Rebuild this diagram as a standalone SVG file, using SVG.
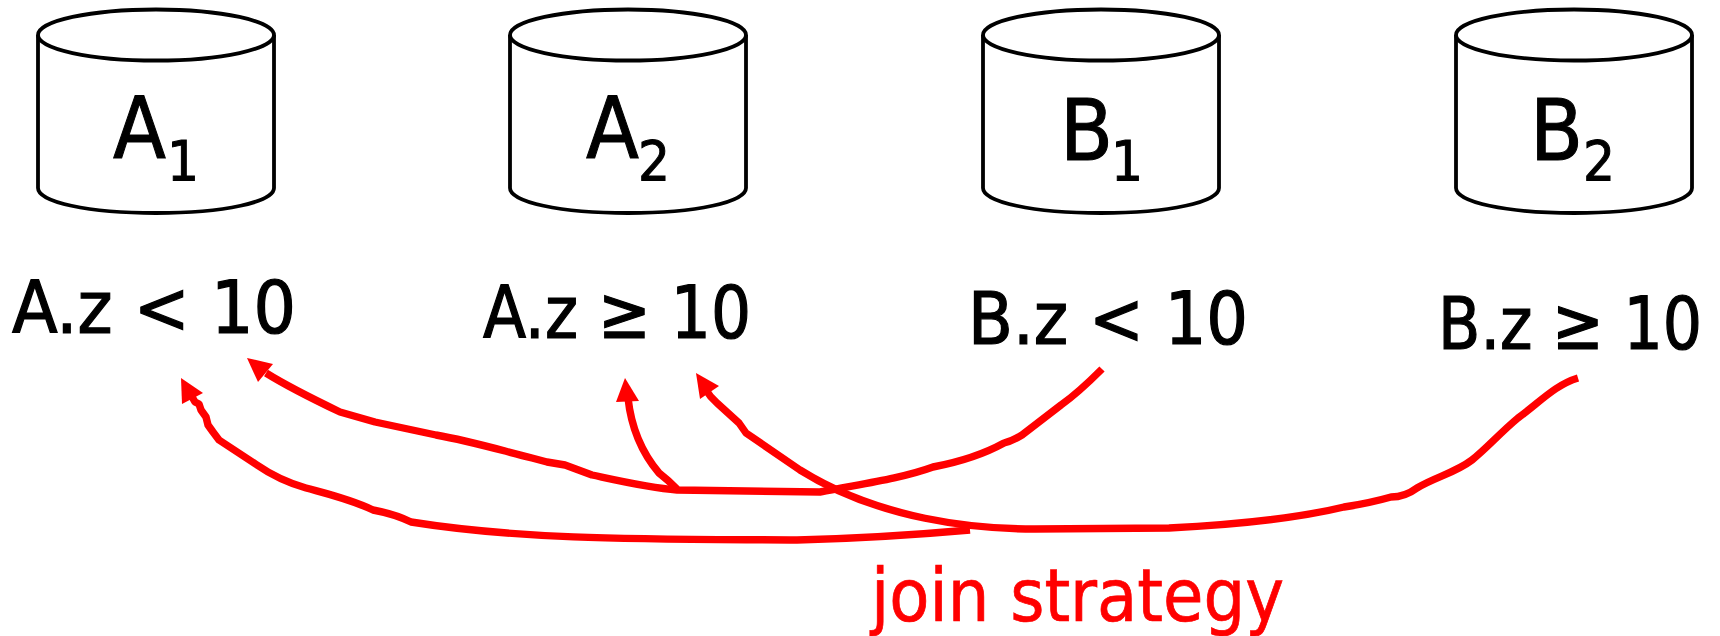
<svg xmlns="http://www.w3.org/2000/svg" width="1720" height="636" viewBox="0 0 1720 636">
<style>
text{font-family:"DejaVu Sans Condensed","DejaVu Sans",sans-serif;font-stretch:condensed;fill:#000;stroke:#000;stroke-width:1}
.big{font-size:86px}.sub{font-size:56px}.lab{font-size:73px;stroke-width:1.2}
.red{fill:#f00;stroke:#f00;font-size:73px;stroke-width:.7}
.cyl{fill:#fff;stroke:#000;stroke-width:3.8}
.wire{fill:none;stroke:#f00;stroke-width:7.4;stroke-linejoin:round}
.head{fill:#f00}
</style>
<defs>
<g id="cyl">
<path class="cyl" d="M38 35V188C38 202 88 213 156 213S274 202 274 188V35"/>
<ellipse class="cyl" cx="156" cy="35" rx="118" ry="25.5"/>
</g>
</defs>
<g id="node-a1"><use href="#cyl"/><text class="big" x="113" y="158">A</text><text class="sub" x="167" y="180">1</text></g>
<g id="node-a2"><use href="#cyl" x="472"/><text class="big" x="586" y="158">A</text><text class="sub" x="638" y="180">2</text></g>
<g id="node-b1"><use href="#cyl" x="945"/><text class="big" x="1060" y="160">B</text><text class="sub" x="1111" y="180">1</text></g>
<g id="node-b2"><use href="#cyl" x="1418"/><text class="big" x="1530" y="160">B</text><text class="sub" x="1583" y="180">2</text></g>
<g id="labels">
<text class="lab" x="12" y="333" textLength="284" lengthAdjust="spacingAndGlyphs">A.z &lt; 10</text>
<text class="lab" x="483" y="338" textLength="268" lengthAdjust="spacingAndGlyphs">A.z ≥ 10</text>
<text class="lab" x="968" y="344" textLength="280" lengthAdjust="spacingAndGlyphs">B.z &lt; 10</text>
<text class="lab" x="1438" y="349" textLength="264" lengthAdjust="spacingAndGlyphs">B.z ≥ 10</text>
</g>
<g id="connectors">
<path class="wire" d="M1102 369C1090 381 1078 393 1061 405L1022 435Q1012 441 1004 443Q975 459 933 467C900 479 860 484 820 492L677 490C650 488 620 481 592 475L565 465L547 462L532 458C500 450 470 441 436 435L375 422L340 412C315 400 290 388 266 373"/>
<polygon class="head" points="247,358 273,364 258,382"/>
<path class="wire" d="M677 489Q668 480 659 473C648 460 632 435 628 398"/>
<polygon class="head" points="625,378 616,402 639,401"/>
<path class="wire" d="M1578 378C1555 385 1540 402 1518 418C1500 433 1487 448 1472 460C1455 473 1435 477 1417 488Q1405 497 1391 497Q1370 503 1344 507C1290 520 1230 525 1169 528L1035 529C975 529 880 520 800 470L746 433L739 423L717 403Q710 397 706 390"/>
<polygon class="head" points="696,373 719,386 700,399"/>
<path class="wire" d="M970 530Q880 538 797 540C660 539 530 541 411 522Q395 514 373 510C350 499 328 494 306 488C285 482 270 474 257 465L219 440L213 432L208 425L206 417L201 410L199 404L195 402L191 395"/>
<polygon class="head" points="181,378 203,393 182,404"/>
</g>
<text class="red" x="871" y="621">join strategy</text>
</svg>
